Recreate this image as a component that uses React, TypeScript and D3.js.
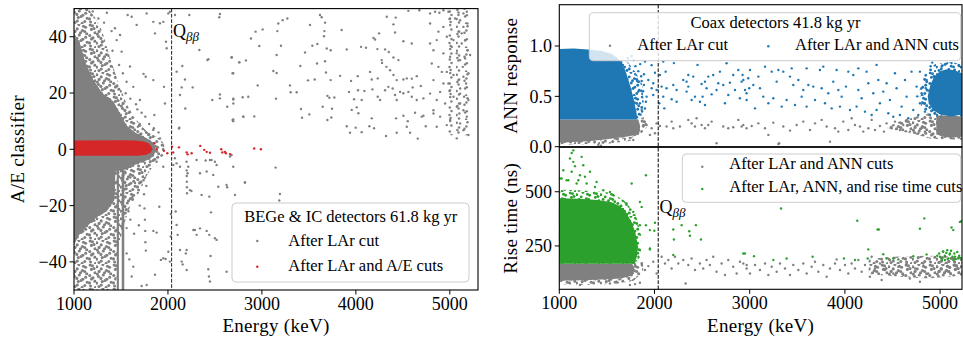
import React from 'react';
import * as d3 from 'd3';

const GRAY = '#808080';
const RED = '#d62728';
const BLUE = '#1f77b4';
const GREEN = '#2ca02c';
const FONT = "'Liberation Serif', 'Times New Roman', serif";

// ---------- shared ----------
const qbb = 2039;
const energyTicks = [1000, 2000, 3000, 4000, 5000];

// ---------- left panel: A/E ----------
const aeXDomain = [1000, 5300];
const aeYDomain = [-50, 50];
const aeYTicks = [-40, -20, 0, 20, 40];

const aeGrayHaze = [[1000,50],[1150,50],[1220,47],[1300,42],[1380,33],[1450,26],[1560,16],[1650,11],[1770,6.5],[1900,4],[1960,2],[1960,-2],[1880,-4],[1780,-9],[1700,-15],[1600,-20],[1540,-26],[1470,-35],[1445,-50],[1000,-50]];
const aeGrayCore = [[1000,40],[1060,38],[1120,31],[1200,25],[1300,20],[1420,17],[1500,12],[1560,8.5],[1650,6],[1770,4],[1850,2.2],[1870,0],[1850,-2.5],[1770,-4],[1650,-5.5],[1560,-7],[1440,-8],[1430,-18],[1350,-22],[1250,-24],[1150,-27],[1060,-30],[1000,-34]];
const aeGrayClusterHaze = [[4950,50],[5220,50],[5220,5],[4980,5],[4950,20]];
const aeStripes = [[1455,1478],[1508,1535]];
const aeStripeRange = [-50, -7];
const aeRedBand = [[1000,3.1],[1500,3.2],[1650,3.1],[1740,2.8],[1790,2.2],[1820,1.2],[1835,0],[1815,-1.2],[1770,-1.9],[1680,-2.3],[1000,-2.3]];

const aeGrayPoints = [
  [1571,47.7],[1614,47.1],[1667,44.2],[1773,48.3],[1844,45.3],[1862,41.2],[1915,44.8],[1951,45.3],[1986,35.9],[1979,38.2],[2004,48.3],[2021,48.9],[2075,47.7],[2227,47.7],[2553,48.1],[2546,46.9],[2334,35.3],[2419,31.7],[2430,32],[2678,32.7],[2759,30.9],[2695,27],[2153,29.6],[2093,27.6],[2181,24.8],[2263,22],[2146,22],[2128,19.3],[1958,22.2],[1763,25.8],[1740,26.8],[1844,24.6],[2553,19.5],[2553,18.1],[2472,17.5],[2631,15.1],[2695,18],[2795,18.5],[2802,11.6],[2695,10.6],[2185,14.5],[2121,7.7],[1855,12.2],[1759,11.6],[1674,14.2],[1968,16.3],[1550,19.9],[1631,22.2],[1702,17.5],[1596,29.4],[1507,34.7],[1454,38.8],[1436,43],[1490,40.6],
  [1200,49],[1260,46.5],[1320,45],[1350,48.5],[1400,42],[1300,38],[1410,35],[1480,30],[1520,27],[1560,24],[1600,18],[1660,16],[1700,9],[1720,13],[1800,9],[1850,7.5],[1900,6],[1680,8],
  [1791,5.1],[1844,6.9],[1915,3.9],[1879,-4.4],[1950,-6.2],[2074,-3.2],[2092,-5],[2117,7.4],[2198,-4.4],[2216,-6.2],[2209,-8.5],[2305,-3.8],[2401,-4],[2464,-3.8],[2500,-4.4],[2482,-9.1],[2677,-2],[2695,10],
  [2057,-5.6],[2128,-6.2],[2447,-3.8],[2518,-5.6],[2695,-6.2],[2660,-2.6],
  [1543,-8],[1600,-10],[1560,-14],[1620,-17],[1580,-22],[1650,-12],[1700,-20],[1690,-27],[1640,-30],[1560,-28],[1600,-25],[1740,-11],[1745,-16],[1750,-21],[1755,-25],[1758,-29],[1760,-33],[1765,-36],[1770,-13],[1908,-20.4],[1880,-29.6],[1845,-29],[1950,-38.7],[1925,-39.3],[1862,-44.6],[1773,-48.2],[1720,-48.6],[1631,-41.7],[1614,-45.2],[1589,-39.1],[1560,-37],[2020,-14],[2030,-23],[2199,-7.5],[2200,-9.5],[2201,-11.5],[2202,-13.5],[2203,-15.6],[2199,-35.8],[2190,-37],[2146,-39.9],[2157,-40.9],[2199,-42.9],[2082,-22.1],[2092,-26.9],[2103,-30.4],[2128,-35.8],[2021,-39.9],[2004,-36.4],[1975,-39],[2029,-31],[2270,-28.7],[2341,-28.1],[2412,-29],[2440,-30.4],[2500,-31.6],[2518,-32.2],[2458,-22.4],[2358,-16.2],[2440,-16.8],[2536,-13.3],[2624,-12.7],[2630,-13.5],[2819,-11.8],[2454,-37.9],[2429,-42.6],[2436,-45.2],[2447,-47],[2624,-43.5],[2234,-14.5],[2250,-14.8],[2341,-8.5],[2412,-7.9],[2287,-28.7],[2305,-30.4],
  [2820,-11.8],[2713,-16.2],[3192,-15.9],[3185,-18.2],
  [3175,44.7],[3221,45.9],[3271,46.5],[3512,44.2],[3618,47.7],[3636,46.9],[3672,45],[3665,42],[3661,40.2],[3849,42.4],[2933,41.8],[3008,42.6],[2884,39.4],[2972,36.7],[3203,36.8],[3164,42],[3157,33.5],[3459,34.4],[3537,36.8],[3590,37.4],[3690,35.8],[3732,35.2],[3672,31.3],[3587,30.5],[3409,29.6],[3122,27.8],[3157,27.1],[2688,27],[2759,30.9],[2830,31.6],[2678,32.6],[2955,22.7],[3299,22.7],[3306,20.3],[3370,20.3],[3491,24.5],[3562,24.8],[3682,27.3],[3732,24.6],[3832,26.1],[3903,35.5],[4055,36.4],[4108,36.1],[4229,35.6],[4204,39],[4187,39.6],[4247,41.2],[4329,47.1],[4424,46.8],[4559,49.2],[4676,49.4],[4400,44.4],[4417,41.5],[4506,38.4],[4595,37.6],[4311,35.5],[4350,34.6],[4400,32.6],[4453,31.7],[4275,31.7],[4151,27.5],[4169,24.8],[4233,25.2],[4279,30.7],[4325,29.3],[4364,28.1],[4400,26.4],[4435,24.6],[4506,24.8],[4542,25.2],[4595,25.1],[4648,26],[4311,21],[4346,22.2],[4392,21.6],[4417,19.3],[4471,20.4],[4435,17.5],[4506,19.9],[4559,20.4],[4595,18.7],[4648,17.5],[4719,18.1],[4605,22],[4691,22.5],[4020,26],[3949,24.3],[3927,20.4],[4023,21],[4091,20.7],[3981,17.8],[4062,17.5],[4009,14.9],[3956,14],[4027,12.8],[4176,21.3],[4233,18.7],[4258,17.5],[2855,18.7],[3150,18],[2696,17.7],[2696,16.3],[3416,14.3],[3427,11.2],[3505,12.4],[3647,15.1],[3697,19],[3718,18.3],[3771,18.4],[3746,14.4],[3739,11.3],[3697,10.4],[2688,10.4],[2802,11.6],[2919,11.7],[3903,8.2],[3938,5.9],[3998,7.7],[4062,6.1],[4144,8.2],[4194,7.5],[4169,11],[4321,4.7],[4428,11],[4435,5.9],[4506,11.9],[4552,10],[4542,8],[4577,5.9],[4659,3.8],[4744,8.2],[4719,11.9],[4826,12.7],[4630,13],[4701,11.6],[2671,-2],[3146,-6.5],
  [4790,48.3],[4843,48.9],[4889,48.5],[4932,49.4],[4985,48.9],[5003,46.5],[5092,47.7],[5110,45.9],[5145,48.3],[5181,48.9],[4790,44.7],[4879,41.8],[4932,43.5],[4968,40],[5039,38.8],[4790,37.6],[4826,35.2],[4932,34.1],[5003,32.9],[5110,31.7],[4808,30.5],[4879,29.3],[4968,27.5],[5039,26.4],[5145,25.8],[4826,24.6],[4932,23.4],[5003,21],[5110,19.8],[4790,19.8],[4861,17.5],[4950,16.3],[5074,15.1],[5145,13.9],[4826,13.9],[4897,11.6],[5003,10.4],[5110,9.2],[4861,8],[4968,8.6],[5145,6.8],[5074,3.9],[5198,5.1],[5216,33.5],
  [5127,41.2],[5163,38.8],[5188,35.2],[5138,29.3],[5173,23.4],[5092,24.6],[5152,18.7],[5198,17.5],[5102,12.7],[5181,11.6],[5127,37.6],[5074,34.1],[5198,27],[5110,16.3],[5145,43.5],[5188,44.7],[5092,41.8],[5163,32.3],[5110,21.6],[5039,18.7],[5056,46.5],[5021,36.4],[4985,23.4],[4897,20.4],[4861,38.8],[4915,27.5]
];
const aeRedPoints = [[1854,2.1],[1880,0],[1957,-0.5],[1993,-1.4],[2043,0.9],[2056,-1.1],[2117,0.7],[2199,-1.1],[2210,-1.8],[2252,-1.4],[2344,1.2],[2386,-0.2],[2412,-0.9],[2447,-1.2],[2567,0],[2578,-1.1],[2606,-0.9],[2617,-1.4],[2660,-1.7],[2918,0.3],[2989,0]];

// ---------- right panels ----------
const rXDomain = [1000, 5230];
const annYDomain = [0, 1.41];
const annYTicks = [0, 0.5, 1.0];
const rtYDomain = [50, 705];
const rtYTicks = [250, 500];

const annBlueHaze = [[1640,0.85],[1720,0.84],[1800,0.74],[1870,0.62],[1890,0.4],[1850,0.27],[1790,0.3],[1700,0.6]];
const annBlueCore = [[1000,0.97],[1150,0.975],[1300,0.965],[1450,0.95],[1550,0.92],[1610,0.88],[1660,0.83],[1700,0.74],[1740,0.62],[1780,0.48],[1810,0.34],[1820,0.27],[1000,0.27]];
const annGrayHaze = [[1000,0.05],[1500,0.08],[1760,0.1],[1850,0.12],[1930,0.2],[1900,0.3],[1830,0.27],[1760,0.06],[1500,0.03],[1000,0.02]];
const annGrayCore = [[1000,0.27],[1830,0.27],[1850,0.2],[1835,0.12],[1700,0.1],[1500,0.075],[1300,0.055],[1100,0.045],[1000,0.04]];
const annGrayRightHaze = [[4450,0.2],[4600,0.26],[4750,0.3],[4900,0.33],[5230,0.33],[5230,0.07],[4900,0.08],[4750,0.12],[4600,0.15],[4450,0.18]];
const annGrayRightCore = [[4960,0.31],[5100,0.31],[5230,0.3],[5230,0.1],[5100,0.09],[4960,0.12]];
const annBlueBlobHaze = [[4780,0.55],[4850,0.75],[4950,0.82],[5100,0.84],[5230,0.82],[5230,0.3],[4900,0.3],[4800,0.4]];
const annBlueBlob = [[4870,0.5],[4900,0.62],[4940,0.7],[5000,0.75],[5070,0.77],[5150,0.76],[5230,0.73],[5230,0.32],[5120,0.3],[5000,0.32],[4930,0.36],[4880,0.43]];

const annBluePoints = [
  [1900,0.845],[1970,0.81],[2092,0.845],[2204,0.83],[2005,0.735],[2057,0.712],[2117,0.745],[1865,0.653],[1935,0.663],[1889,0.613],[1970,0.58],[1917,0.497],[1987,0.514],[1830,0.547],[1847,0.431],[1910,0.447],[2050,0.431],[2075,0.597],[2127,0.58],[2197,0.613],[2232,0.563],[2302,0.663],[2355,0.712],[2407,0.696],[2452,0.812],[2495,0.623],[2530,0.646],[2565,0.696],[2617,0.712],[2687,0.745],[2757,0.828],[2827,0.712],[2880,0.762],[2925,0.712],[2985,0.679],[2180,0.471],[2232,0.447],[2337,0.547],[2425,0.497],[2505,0.497],[2600,0.52],[2652,0.563],[2722,0.613],[2775,0.514],[2845,0.563],[2897,0.481],[2967,0.53],[2092,0.497],[2103,0.381],[2022,0.563],[1987,0.63],[2355,0.597],[2547,0.58],[2670,0.63],[2792,0.636],[2915,0.646],[2337,0.646],[2390,0.464],[2477,0.447],[2530,0.414],[2740,0.431],[2995,0.58],
  [1800,0.8],[1830,0.75],[1860,0.7],[1850,0.82],[1880,0.55],[1870,0.35],[1900,0.38],[1820,0.65],[1890,0.72],[1780,0.86],[1760,0.9],[1720,0.88],
  [3003,0.762],[2933,0.663],[2951,0.563],[3038,0.613],[3091,0.696],[3108,0.58],[3161,0.795],[3231,0.745],[3283,0.646],[3353,0.745],[3423,0.696],[3458,0.613],[3511,0.663],[3563,0.563],[3616,0.613],[3668,0.597],[3738,0.762],[3756,0.58],[3826,0.53],[3878,0.646],[3931,0.563],[3966,0.497],[4011,0.597],[4036,0.745],[4088,0.712],[4141,0.563],[4176,0.481],[4228,0.745],[4246,0.63],[4298,0.53],[4351,0.663],[4368,0.431],[4403,0.547],[4438,0.63],[4473,0.464],[4526,0.729],[4543,0.58],[4596,0.398],[4631,0.663],[4648,0.497],[4700,0.745],[4718,0.365],[4753,0.597],[4788,0.431],[2968,0.464],[3056,0.381],[3143,0.497],[3196,0.431],[3248,0.481],[3336,0.398],[3388,0.464],[3476,0.414],[3546,0.497],[3598,0.398],[3686,0.464],[3791,0.431],[3861,0.381],[3948,0.398],[4053,0.365],[4123,0.398],[4211,0.348],[4281,0.315],[4333,0.365],[4456,0.332],[4508,0.298],[4578,0.315],[4666,0.282],[4771,0.315],[3773,0.795],[3913,0.762],[4141,0.778],[4333,0.812],[3598,0.778],[3441,0.778],[3301,0.762],
  [4918,0.835],[5016,0.795],[4788,0.745],[4858,0.663],[4806,0.53],[4823,0.431],[4840,0.348],[4900,0.8],[5120,0.83],[5200,0.8],[4760,0.5],[4850,0.58]
];
const annGrayPoints = [
  [1865,0.365],[1882,0.2],[1917,0.216],[1970,0.183],[2022,0.232],[2057,0.206],[2127,0.2],[2180,0.249],[2197,0.183],[2267,0.2],[2355,0.266],[2390,0.232],[2425,0.2],[2442,0.282],[2495,0.216],[2530,0.183],[2565,0.216],[2600,0.249],[2652,0.034],[2722,0.2],[2775,0.183],[2827,0.193],[2880,0.266],[2915,0.2],[2967,0.183],[1812,0.299],[1830,0.15],[1952,0.117],[2005,0.133],[1777,0.067],[1437,0.01],[1410,0.02],
  [2933,0.216],[3021,0.206],[3091,0.232],[3161,0.183],[3196,0.117],[3301,0.027],[3310,0.035],[3248,0.239],[3353,0.2],[3423,0.16],[3493,0.216],[3563,0.249],[3633,0.166],[3686,0.232],[3756,0.266],[3808,0.2],[3843,0.05],[3896,0.183],[3931,0.15],[3983,0.249],[4036,0.166],[4071,0.282],[4106,0.216],[4158,0.2],[4193,0.15],[4246,0.183],[4281,0.266],[4316,0.166],[4368,0.206],[4410,0.15],[4438,0.232],[4491,0.183],[4526,0.249],[4578,0.166],[4613,0.216],[4648,0.266],[4683,0.15],[4736,0.2],[4771,0.133],[4806,0.183],[4840,0.15]
];

const rtGreenHaze = [[1000,510],[1300,505],[1550,495],[1680,460],[1800,400],[1860,300],[1850,200],[1790,168],[1000,168]];
const rtGreenCore = [[1000,470],[1200,468],[1400,462],[1550,452],[1640,432],[1700,405],[1760,360],[1800,310],[1825,250],[1815,200],[1790,168],[1000,168]];
const rtGrayHaze = [[1000,95],[1000,72],[1300,70],[1600,76],[1780,90],[1880,130],[1880,175],[1760,170],[1700,100]];
const rtGrayCore = [[1000,168],[1760,168],[1790,150],[1770,115],[1650,100],[1450,95],[1250,92],[1000,90]];
const rtGrayRightHaze = [[4250,190],[4500,200],[4860,205],[5230,203],[5230,112],[4860,100],[4500,110],[4250,120]];
const rtGrayRightCore = [[4960,195],[5100,198],[5230,195],[5230,125],[5100,120],[4960,128]];

const rtGreenPoints = [
  [1147,691],[1130,679],[1112,653],[1235,661],[1147,638],[1165,618],[1252,622],[1042,599],[1130,592],[1217,576],[1322,592],[1270,569],[1200,553],[1095,553],[1007,561],[1182,538],[1287,538],[1375,522],[1462,507],[1532,499],[1760,538],[1910,576],[1707,446],[1847,453],[1865,430],[1910,346],[2005,357],[1952,238],[1847,231],[1742,238],[1760,216],[1725,208],
  [1392,545],[1077,553],[1025,561],[1777,407],[1847,346],[1952,323],[1998,320],[2197,326],[2285,346],[2365,318],[2372,297],[2435,346],[2204,280],[2488,280],[1952,234],[2197,208],[2933,215],
  [3329,423],[4130,366],[4344,326],[4356,326],[4834,377],[4788,329],[5120,335],[5138,323],[5208,361],[5222,364],[4246,234],[4403,212],[4508,192],[4561,188],[2950,215],[3045,203],[3248,185],[3388,192],[3661,200],[3990,192],[4106,185],[4239,192],[4438,192],[4718,203],[4858,211],[4998,200],[5033,223],[5103,215],[5156,200],[5086,192],[5051,185],[5191,192],
  [4970,205],[4990,215],[5010,195],[5030,225],[5050,205],[5065,218],[5080,190],[5100,210],[5115,228],[5130,200],[5150,215],[5165,190],[5180,222],[5200,205],[5215,195],[5075,230],[5140,185],[5020,185]
];
const rtGrayPoints = [
  [1742,185],[1795,162],[1830,200],[1865,169],[1900,139],[1935,157],[1987,177],[2022,123],[2075,200],[2110,169],[2145,185],[2180,146],[2215,200],[2250,169],[2302,185],[2327,77],[2355,162],[2390,192],[2425,139],[2477,169],[2512,146],[2547,185],[2582,162],[2617,200],[2652,131],[2705,169],[2740,116],[2775,185],[2827,154],[2863,123],[2898,177],[2968,162],[1602,85],[1742,70],[1795,74],[1847,80],[1532,77],[1217,70],
  [2933,169],[2968,146],[3003,123],[3056,162],[3108,139],[3161,169],[3196,116],[3231,154],[3283,131],[3318,169],[3371,146],[3423,116],[3458,162],[3511,139],[3563,169],[3598,123],[3651,154],[3686,177],[3721,131],[3773,162],[3808,108],[3843,146],[3896,169],[3913,188],[3948,139],[4001,162],[4036,123],[4071,169],[4106,146],[4141,185],[4176,131],[4211,162],[4263,108],[4281,200],[4316,146],[4368,169],[4386,93],[4421,139],[4473,185],[4508,123],[4561,154],[4613,116],[4648,169],[4683,100],[4736,146],[4788,85],[4823,169],[4876,123]
];

// ---------- helpers ----------
const polyPath = (pts, x, y) =>
  (d3.line().x((d) => x(d[0])).y((d) => y(d[1]))(pts) || '') + 'Z';

// speckle texture (a jittered 6x6 grid in a 24px tile) used to render the densest,
// unresolvable parts of the point clouds
const speckleJitter = [[-1.2,0.8],[0.9,-1.4],[1.5,0.3],[-0.4,1.2],[0.2,-0.9],[-1.5,-0.3],
  [1.1,1.4],[-0.8,-1.1],[0.4,0.6],[-1.3,1.5],[1.4,-0.6],[0.0,-1.5],
  [-0.6,0.1],[1.3,1.0],[-1.5,-1.2],[0.7,-0.2],[-0.2,1.5],[1.0,-1.3],
  [0.5,-1.5],[-1.1,0.4],[0.8,1.3],[-0.3,-0.7],[1.5,0.9],[-1.0,-0.1],
  [-1.4,1.1],[0.3,-0.4],[-0.9,-1.5],[1.2,0.2],[-0.5,0.9],[0.9,-0.8],
  [1.0,0.5],[-0.7,-1.0],[0.1,1.4],[-1.2,-0.5],[0.6,0.0],[1.4,1.5]];

function Speckle({ id, color, r, skip = 1 }) {
  return (
    <pattern id={id} width={24} height={24} patternUnits="userSpaceOnUse">
      {speckleJitter.map((j, k) => {
        if (k % skip !== 0) return null;
        const i = k % 6, jj = Math.floor(k / 6);
        return <circle key={k} cx={4 * i + 2 + j[0]} cy={4 * jj + 2 + j[1]} r={r} fill={color} />;
      })}
    </pattern>
  );
}

function Dots({ data, x, y, color, r = 1.2 }) {
  return (
    <g fill={color}>
      {data.map((d, i) => (
        <circle key={i} cx={x(d[0])} cy={y(d[1])} r={r} />
      ))}
    </g>
  );
}

function XAxis({ x, y0, ticks }) {
  return (
    <g>
      {ticks.map((t) => (
        <g key={t}>
          <line x1={x(t)} x2={x(t)} y1={y0} y2={y0 + 4.5} stroke="#000" strokeWidth={1} />
          <text x={x(t)} y={y0 + 19.8} textAnchor="middle" fontSize={18} fontFamily={FONT}>{t}</text>
        </g>
      ))}
    </g>
  );
}

function YAxis({ y, x0, ticks, fmt }) {
  return (
    <g>
      {ticks.map((t) => (
        <g key={t}>
          <line x1={x0 - 4.5} x2={x0} y1={y(t)} y2={y(t)} stroke="#000" strokeWidth={1} />
          <text x={x0 - 7.3} y={y(t)} dy="0.35em" textAnchor="end" fontSize={18} fontFamily={FONT}>{fmt(t)}</text>
        </g>
      ))}
    </g>
  );
}

const minus = (s) => s.replace('-', '\u2212');

export default function App() {
  const xL = d3.scaleLinear().domain(aeXDomain).range([74, 478]);
  const yL = d3.scaleLinear().domain(aeYDomain).range([290, 8.6]);
  const xR = d3.scaleLinear().domain(rXDomain).range([559.3, 962]);
  const yT = d3.scaleLinear().domain(annYDomain).range([146.7, 4.7]);
  const yB = d3.scaleLinear().domain(rtYDomain).range([289.3, 147.3]);

  const L = { x0: 74, x1: 478, y0: 8.6, y1: 290 };
  const T = { x0: 559.3, x1: 962, y0: 4.7, y1: 146.7 };
  const B = { x0: 559.3, x1: 962, y0: 147.3, y1: 289.3 };

  return (
    <svg width={963} height={343} style={{ position: 'fixed', left: 0, top: 0, background: '#fff' }}>
      <defs>
        <Speckle id="hazeGray" color={GRAY} r={1.55} />
        <Speckle id="hazeGrayLight" color={GRAY} r={1.25} skip={2} />
        <Speckle id="hazeBlue" color={BLUE} r={1.45} />
        <Speckle id="hazeGreen" color={GREEN} r={1.45} />
        <clipPath id="clipL"><rect x={L.x0} y={L.y0} width={L.x1 - L.x0} height={L.y1 - L.y0} /></clipPath>
        <clipPath id="clipT"><rect x={T.x0} y={T.y0} width={T.x1 - T.x0} height={T.y1 - T.y0} /></clipPath>
        <clipPath id="clipB"><rect x={B.x0} y={B.y0} width={B.x1 - B.x0} height={B.y1 - B.y0} /></clipPath>
      </defs>

      {/* ---------- Left panel ---------- */}
      <g clipPath="url(#clipL)">
        <path d={polyPath(aeGrayHaze, xL, yL)} fill="url(#hazeGray)" />
        <path d={polyPath(aeGrayCore, xL, yL)} fill={GRAY} />
        <path d={polyPath(aeGrayClusterHaze, xL, yL)} fill="url(#hazeGrayLight)" />
        {aeStripes.map((s, i) => (
          <rect key={i} x={xL(s[0])} width={xL(s[1]) - xL(s[0])} y={yL(aeStripeRange[1])} height={yL(aeStripeRange[0]) - yL(aeStripeRange[1])} fill={GRAY} />
        ))}
        <Dots data={aeGrayPoints} x={xL} y={yL} color={GRAY} />
        <path d={polyPath(aeRedBand, xL, yL)} fill={RED} />
        <Dots data={aeRedPoints} x={xL} y={yL} color={RED} />
        <line x1={xL(qbb)} x2={xL(qbb)} y1={L.y0} y2={L.y1} stroke="#222" strokeWidth={1} strokeDasharray="3.7,1.6" />
      </g>
      <text x={xL(qbb) + 1.5} y={37.3} fontSize={18} fontFamily={FONT}>Q<tspan fontSize={13} fontStyle="italic" dy={3.5}>ββ</tspan></text>
      <rect x={L.x0} y={L.y0} width={L.x1 - L.x0} height={L.y1 - L.y0} fill="none" stroke="#000" strokeWidth={1.1} />
      <XAxis x={xL} y0={L.y1} ticks={energyTicks} />
      <YAxis y={yL} x0={L.x0} ticks={aeYTicks} fmt={(t) => minus(String(t))} />
      <text x={(L.x0 + L.x1) / 2} y={332} textAnchor="middle" fontSize={19} fontFamily={FONT} letterSpacing={0.3}>Energy (keV)</text>
      <text transform={`translate(24,${(L.y0 + L.y1) / 2}) rotate(-90)`} textAnchor="middle" fontSize={19} fontFamily={FONT} letterSpacing={0.3}>A/E classifier</text>

      {/* left legend */}
      <g>
        <rect x={232} y={203} width={237} height={79} rx={4} fill="#fff" fillOpacity={0.8} stroke="#ccc" strokeWidth={1} />
        <text x={350.8} y={221.7} textAnchor="middle" fontSize={16.5} fontFamily={FONT}>BEGe &amp; IC detectors 61.8 kg yr</text>
        <circle cx={257.3} cy={241} r={1.2} fill={GRAY} />
        <text x={288.3} y={246} fontSize={16.5} fontFamily={FONT}>After LAr cut</text>
        <circle cx={257.3} cy={266.7} r={1.2} fill={RED} />
        <text x={288.3} y={271} fontSize={16.5} fontFamily={FONT}>After LAr and A/E cuts</text>
      </g>

      {/* ---------- Right top panel ---------- */}
      <g clipPath="url(#clipT)">
        <path d={polyPath(annGrayHaze, xR, yT)} fill="url(#hazeGray)" />
        <path d={polyPath(annGrayCore, xR, yT)} fill={GRAY} />
        <path d={polyPath(annGrayRightHaze, xR, yT)} fill="url(#hazeGray)" />
        <path d={polyPath(annGrayRightCore, xR, yT)} fill={GRAY} />
        <Dots data={annGrayPoints} x={xR} y={yT} color={GRAY} />
        <path d={polyPath(annBlueHaze, xR, yT)} fill="url(#hazeBlue)" />
        <path d={polyPath(annBlueCore, xR, yT)} fill={BLUE} />
        <path d={polyPath(annBlueBlobHaze, xR, yT)} fill="url(#hazeBlue)" />
        <path d={polyPath(annBlueBlob, xR, yT)} fill={BLUE} />
        <Dots data={annBluePoints} x={xR} y={yT} color={BLUE} />
      </g>

      {/* ---------- Right bottom panel ---------- */}
      <g clipPath="url(#clipB)">
        <path d={polyPath(rtGrayHaze, xR, yB)} fill="url(#hazeGray)" />
        <path d={polyPath(rtGrayCore, xR, yB)} fill={GRAY} />
        <path d={polyPath(rtGrayRightHaze, xR, yB)} fill="url(#hazeGray)" />
        <path d={polyPath(rtGrayRightCore, xR, yB)} fill="url(#hazeGray)" />
        <Dots data={rtGrayPoints} x={xR} y={yB} color={GRAY} />
        <path d={polyPath(rtGreenHaze, xR, yB)} fill="url(#hazeGreen)" />
        <path d={polyPath(rtGreenCore, xR, yB)} fill={GREEN} />
        <Dots data={rtGreenPoints} x={xR} y={yB} color={GREEN} />
      </g>

      <line x1={xR(qbb)} x2={xR(qbb)} y1={T.y0} y2={B.y1} stroke="#000" strokeWidth={1} strokeDasharray="3.7,1.6" />
      <text x={xR(qbb) + 1.2} y={213.3} fontSize={18} fontFamily={FONT}>Q<tspan fontSize={13} fontStyle="italic" dy={3.5}>ββ</tspan></text>

      <rect x={T.x0} y={T.y0} width={T.x1 - T.x0} height={T.y1 - T.y0} fill="none" stroke="#000" strokeWidth={1.1} />
      <rect x={B.x0} y={B.y0} width={B.x1 - B.x0} height={B.y1 - B.y0} fill="none" stroke="#000" strokeWidth={1.1} />
      <YAxis y={yT} x0={T.x0} ticks={annYTicks} fmt={(t) => t.toFixed(1)} />
      <YAxis y={yB} x0={B.x0} ticks={rtYTicks} fmt={(t) => String(t)} />
      <XAxis x={xR} y0={B.y1} ticks={energyTicks} />
      <text x={(B.x0 + B.x1) / 2} y={332} textAnchor="middle" fontSize={19} fontFamily={FONT} letterSpacing={0.3}>Energy (keV)</text>
      <text transform={`translate(517,${(T.y0 + T.y1) / 2}) rotate(-90)`} textAnchor="middle" fontSize={19} fontFamily={FONT} letterSpacing={0.3}>ANN response</text>
      <text transform={`translate(517,${(B.y0 + B.y1) / 2}) rotate(-90)`} textAnchor="middle" fontSize={19} fontFamily={FONT} letterSpacing={0.3}>Rise time (ns)</text>

      {/* right top legend */}
      <g>
        <rect x={589.3} y={12.7} width={371.4} height={48} rx={4} fill="#fff" fillOpacity={0.8} stroke="#ccc" strokeWidth={1} />
        <text x={775.5} y={28.3} textAnchor="middle" fontSize={16.5} fontFamily={FONT}>Coax detectors 41.8 kg yr</text>
        <circle cx={610} cy={45.7} r={1.2} fill={GRAY} />
        <text x={637.3} y={50} fontSize={16.5} fontFamily={FONT}>After LAr cut</text>
        <circle cx={768.3} cy={46.2} r={1.2} fill={BLUE} />
        <text x={795} y={50} fontSize={16.5} fontFamily={FONT}>After LAr and ANN cuts</text>
      </g>

      {/* right bottom legend */}
      <g>
        <rect x={682.3} y={154} width={278.4} height={48.3} rx={4} fill="#fff" fillOpacity={0.8} stroke="#ccc" strokeWidth={1} />
        <circle cx={702.3} cy={166.7} r={1.2} fill={GRAY} />
        <text x={729.3} y={169.3} fontSize={16.5} fontFamily={FONT}>After LAr and ANN cuts</text>
        <circle cx={702.3} cy={189} r={1.2} fill={GREEN} />
        <text x={729.3} y={191.7} fontSize={16.5} fontFamily={FONT}>After LAr, ANN, and rise time cuts</text>
      </g>
    </svg>
  );
}
